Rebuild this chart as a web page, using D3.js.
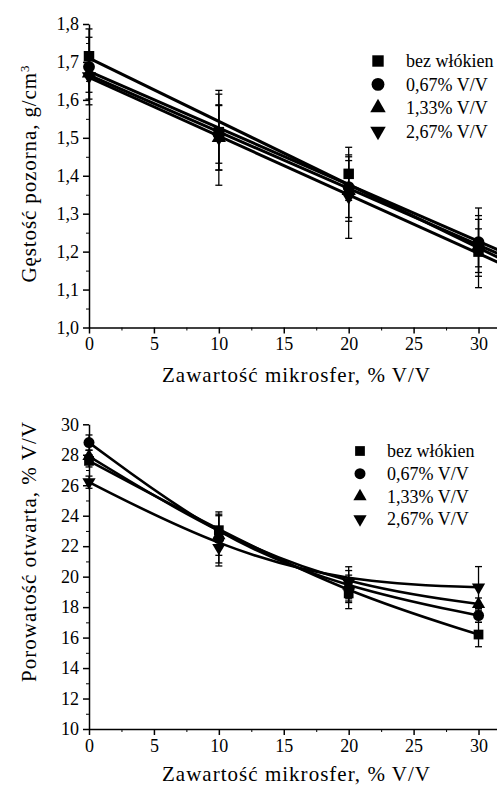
<!DOCTYPE html>
<html>
<head>
<meta charset="utf-8">
<script src="https://cdn.jsdelivr.net/npm/d3@7"></script>
<style>
  body { margin: 0; background: #fff; }
  svg { display: block; }
  svg text { font-family: "Liberation Serif", "Times New Roman", Times, "DejaVu Serif", serif !important; fill: #000; }
</style>
</head>
<body>
<svg id="chart" width="497" height="787" viewBox="0 0 497 787" font-family="Liberation Serif, DejaVu Serif, serif"></svg>
<script>
// microsphere content, % V/V
const xValues = [0, 10, 20, 30];
const seriesNames = ["bez włókien", "0,67% V/V", "1,33% V/V", "2,67% V/V"];
const symbolTypes = ["square", "circle", "up", "down"];

// apparent density, g/cm3
const densityValues = [
    [1.715, 1.515, 1.405, 1.200],
    [1.687, 1.510, 1.370, 1.225],
    [1.670, 1.500, 1.360, 1.215],
    [1.662, 1.500, 1.345, 1.210]
];
const densityErrors = [
    [0.05, 0.100, 0.070, 0.095],
    [0.10, 0.077, 0.080, 0.090],
    [0.05, 0.085, 0.080, 0.070],
    [0.06, 0.125, 0.110, 0.050]
];
// linear fit lines: value at x = 0 and at x = 31.5
const densityFitX = [0, 31.5];
const densityFit = [
    [1.710, 1.185],
    [1.675, 1.205],
    [1.665, 1.195],
    [1.659, 1.172]
];

// open porosity, % V/V
const porosityValues = [
    [27.6, 23.05, 18.9, 16.2],
    [28.8, 22.5, 19.2, 17.45],
    [27.9, 22.7, 19.4, 18.2],
    [26.2, 21.9, 19.6, 19.3]
];
const porosityErrors = [
    [0.4, 1.2, 1.0, 0.8],
    [0.5, 1.6, 0.9, 0.45],
    [0.4, 1.3, 1.0, 0.4],
    [0.4, 1.2, 1.05, 1.36]
];

const densityTicks = [1.0, 1.1, 1.2, 1.3, 1.4, 1.5, 1.6, 1.7, 1.8];
const porosityTicks = [10, 12, 14, 16, 18, 20, 22, 24, 26, 28, 30];
const xTicks = [0, 5, 10, 15, 20, 25, 30];

const svg = d3.select("#chart");

const comma = f => (v => d3.format(f)(v).replace(".", ","));

function symbolPath(type, size) {
    if (type === "square") return d3.symbol(d3.symbolSquare, size)();
    if (type === "circle") return d3.symbol(d3.symbolCircle, size)();
    return d3.symbol(d3.symbolTriangle, size * 0.8)();
}

function drawPanel(opts) {
    const g = svg.append("g");
    const x = d3.scaleLinear().domain([0, 31.5]).range([89, 498]);
    const y = d3.scaleLinear().domain(opts.yDomain).range(opts.yRange);

    // minor ticks
    const xMinor = d3.range(0, 31.5, 2.5).filter(v => v % 5 !== 0);
    g.append("g")
        .attr("transform", `translate(0,${opts.yRange[0]})`)
        .call(d3.axisBottom(x).tickValues(xMinor).tickSize(3).tickFormat(""))
        .call(a => a.select(".domain").remove());
    g.append("g")
        .attr("transform", "translate(89,0)")
        .call(d3.axisLeft(y).tickValues(opts.yMinor).tickSize(3).tickFormat(""))
        .call(a => a.select(".domain").remove());

    // main axes
    const xAxis = g.append("g")
        .attr("transform", `translate(0,${opts.yRange[0]})`)
        .call(d3.axisBottom(x).tickValues(xTicks).tickSize(6).tickPadding(4).tickSizeOuter(0));
    const yAxis = g.append("g")
        .attr("transform", "translate(89,0)")
        .call(d3.axisLeft(y).tickValues(opts.yTicks).tickSize(6).tickPadding(4)
            .tickSizeOuter(0).tickFormat(opts.yFormat));
    [xAxis, yAxis].forEach(a => {
        a.attr("font-family", null).attr("font-size", null);
        a.selectAll("text").style("font-size", "18px");
        a.selectAll("line, path").attr("stroke", "#000").attr("stroke-width", 1.5);
    });

    // axis titles
    g.append("text")
        .attr("x", 296)
        .attr("y", opts.xTitleY)
        .attr("text-anchor", "middle")
        .attr("textLength", 268)
        .attr("lengthAdjust", "spacing")
        .style("font-size", "21px")
        .text("Zawartość mikrosfer, % V/V");

    const yt = g.append("text")
        .attr("transform", `translate(36,${opts.yTitleC}) rotate(-90)`)
        .attr("text-anchor", "middle")
        .attr("textLength", opts.yTitleLen)
        .attr("lengthAdjust", "spacing")
        .style("font-size", "21px");
    opts.yTitle(yt);

    // lines
    const line = d3.line().x(d => x(d[0])).y(d => y(d[1]));
    if (opts.curve) line.curve(opts.curve);
    g.append("g").selectAll("path")
        .data(opts.lines)
        .join("path")
        .attr("d", d => line(d))
        .attr("fill", "none")
        .attr("stroke", "#000")
        .attr("stroke-width", opts.lineWidth);

    // error bars + markers
    opts.values.forEach((vals, si) => {
        const sg = g.append("g");
        vals.forEach((v, i) => {
            const e = opts.errors[si][i];
            const cx = x(xValues[i]);
            sg.append("line")
                .attr("x1", cx).attr("x2", cx)
                .attr("y1", y(v - e)).attr("y2", y(v + e))
                .attr("stroke", "#000").attr("stroke-width", 1.3);
            [v - e, v + e].forEach(c => {
                sg.append("line")
                    .attr("x1", cx - 3.5).attr("x2", cx + 3.5)
                    .attr("y1", y(c)).attr("y2", y(c))
                    .attr("stroke", "#000").attr("stroke-width", 1.3);
            });
            sg.append("path")
                .attr("d", symbolPath(symbolTypes[si], opts.markerSize))
                .attr("transform", `translate(${cx},${y(v)})` + (symbolTypes[si] === "down" ? " rotate(180)" : ""))
                .attr("fill", "#000");
        });
    });

    // legend
    const lg = g.append("g");
    seriesNames.forEach((name, i) => {
        const ly = opts.legend.y + i * opts.legend.dy;
        lg.append("path")
            .attr("d", symbolPath(symbolTypes[i], opts.legend.size))
            .attr("transform", `translate(${opts.legend.x},${ly})` + (symbolTypes[i] === "down" ? " rotate(180)" : ""))
            .attr("fill", "#000");
        lg.append("text")
            .attr("x", opts.legend.x + opts.legend.gap)
            .attr("y", ly)
            .attr("dy", "0.35em")
            .style("font-size", "18px")
            .text(name);
    });
}

// top panel: density
drawPanel({
    yDomain: [1.0, 1.8],
    yRange: [327.5, 24],
    yTicks: densityTicks,
    yMinor: d3.range(1.05, 1.8, 0.1),
    yFormat: comma(".1f"),
    xTitleY: 382,
    yTitleC: 174,
    yTitleLen: 217,
    yTitle: t => {
        t.append("tspan").text("Gęstość pozorna, g/cm");
        t.append("tspan").attr("baseline-shift", "super").style("font-size", "13px").text("3");
    },
    values: densityValues,
    errors: densityErrors,
    lines: densityFit.map(f => f.map((v, i) => [densityFitX[i], v])),
    curve: null,
    lineWidth: 3,
    markerSize: 110,
    legend: { x: 378, y: 61, dy: 23.4, size: 130, gap: 28 }
});

// bottom panel: porosity
drawPanel({
    yDomain: [10, 30],
    yRange: [729, 424.3],
    yTicks: porosityTicks,
    yMinor: d3.range(11, 30, 2),
    yFormat: d3.format("d"),
    xTitleY: 781,
    yTitleC: 552,
    yTitleLen: 260,
    yTitle: t => t.text("Porowatość otwarta, % V/V"),
    values: porosityValues,
    errors: porosityErrors,
    lines: porosityValues.map(vals => vals.map((v, i) => [xValues[i], v])),
    curve: d3.curveBasis,
    lineWidth: 2.6,
    markerSize: 95,
    legend: { x: 360, y: 451, dy: 22.7, size: 95, gap: 27 }
});
</script>
</body>
</html>
